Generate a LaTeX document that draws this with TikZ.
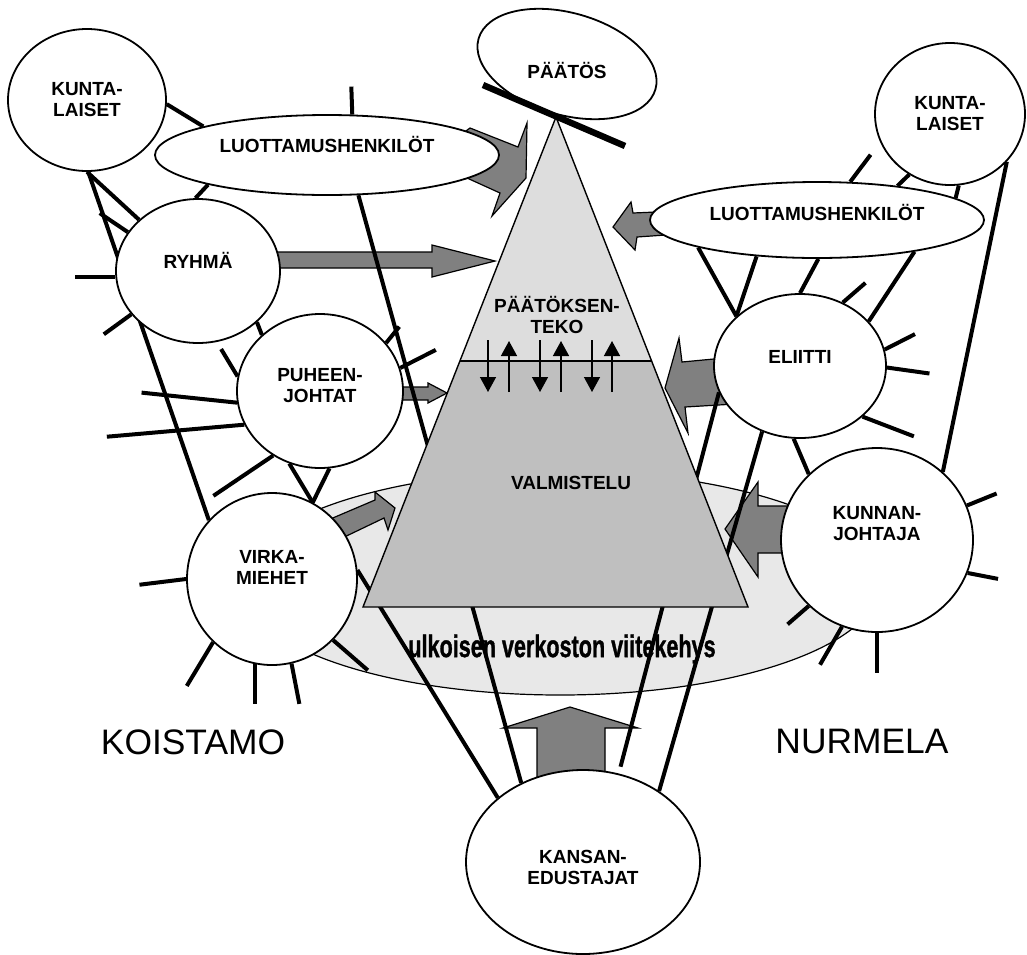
\documentclass[tikz,border=0pt]{standalone}
\usepackage{fontspec}
\setmainfont{Liberation Sans}
\newfontfamily\heavyfont{Liberation Sans}[FakeBold=1.3]
\usepackage{graphicx}
\usetikzlibrary{shapes.geometric,arrows.meta}

\definecolor{diskgray}{gray}{0.91}
\definecolor{topgray}{gray}{0.865}
\definecolor{lowgray}{gray}{0.75}
\definecolor{arrowgray}{gray}{0.5}

\pgfdeclarelayer{disk}
\pgfdeclarelayer{blocks}
\pgfdeclarelayer{links}
\pgfdeclarelayer{pyramid}
\pgfdeclarelayer{front}
\pgfsetlayers{disk,blocks,links,pyramid,main,front}

\begin{document}
\begin{tikzpicture}[
  x=0.5pt, y=-0.5pt,
  blob/.style={ellipse, draw, fill=white, line width=0.9pt, inner sep=0pt},
  lab/.style={font=\fontsize{9.5}{10.5}\selectfont\bfseries, align=center},
  link/.style={line width=2pt},
  blockarrow/.style={draw, line width=0.6pt, fill=arrowgray, line join=miter},
  updown/.style={line width=0.7pt, -{Triangle[length=7.5pt,width=8pt]}},
  place/.style={font=\fontsize{17.7}{20}\selectfont}
]
\useasboundingbox (0,0) rectangle (1027,954);

% actors
\node[blob, minimum width=79pt, minimum height=71pt, label={[lab]center:KUNTA-\\LAISET}] (kuntaL) at (87,100) {};
\node[blob, minimum width=172pt, minimum height=40pt, label={[lab,yshift=5.5pt]center:LUOTTAMUSHENKILÖT}] (luotL) at (327,155) {};
\node[blob, minimum width=82pt, minimum height=72pt, label={[lab,yshift=5.5pt]center:RYHMÄ}] (ryhma) at (198,271) {};
\node[blob, minimum width=83pt, minimum height=77pt, label={[lab,yshift=2.5pt]center:PUHEEN-\\JOHTAT}] (puheen) at (320,391) {};
\node[blob, minimum width=85pt, minimum height=86pt, label={[lab,yshift=6pt]center:VIRKA-\\MIEHET}] (virka) at (272,579) {};
\node[blob, minimum width=75pt, minimum height=71pt, label={[lab]center:KUNTA-\\LAISET}] (kuntaR) at (950,114) {};
\node[blob, minimum width=167pt, minimum height=38pt, label={[lab,yshift=4pt]center:LUOTTAMUSHENKILÖT}] (luotR) at (817,220) {};
\node[blob, minimum width=86pt, minimum height=72pt, label={[lab,yshift=4.5pt]center:ELIITTI}] (eliitti) at (800,366) {};
\node[blob, minimum width=96pt, minimum height=92pt, label={[lab,yshift=8pt]center:KUNNAN-\\JOHTAJA}] (kunnan) at (877,540) {};
\node[blob, minimum width=117pt, minimum height=92pt, label={[lab,yshift=-2.5pt]center:KANSAN-\\EDUSTAJAT}] (kansan) at (583,862) {};
\node[blob, rotate=-16, minimum width=92pt, minimum height=51pt] (paatosEll) at (567,64) {};
\node[lab] (paatos) at (567,70) {PÄÄTÖS};

\node[place] (koistamo) at (193,742) {KOISTAMO};
\node[place] (nurmela) at (862,741) {NURMELA};

\begin{pgfonlayer}{disk}
\node[ellipse, draw, fill=diskgray, line width=0.6pt, minimum width=320pt, minimum height=112pt] (disk) at (560,583) {};
\node[font=\fontsize{12}{13}\selectfont\heavyfont\bfseries] (viite) at (562,649) {\scalebox{0.9}[1.3]{ulkoisen verkoston viitekehys}};
\end{pgfonlayer}

% pyramid
\coordinate (apex) at (556,117);
\coordinate (bl) at (363,607);
\coordinate (br) at (748,607);
\coordinate (ml) at (460,361);
\coordinate (mr) at (652,361);
\begin{pgfonlayer}{pyramid}
\fill[topgray] (apex) -- (ml) -- (mr) -- cycle;
\fill[lowgray] (ml) -- (bl) -- (br) -- (mr) -- cycle;
\draw[line width=0.7pt] (apex) -- (bl) -- (br) -- cycle;
\draw[line width=0.7pt] (ml) -- (mr);
\node[lab] (teko) at (557,315) {PÄÄTÖKSEN-\\TEKO};
\node[lab] (valm) at (571,483) {VALMISTELU};
\foreach \x in {488,540,592}
  \draw[updown] (\x,340) -- (\x,392);
\foreach \x in {509,561,612}
  \draw[updown] (\x,392) -- (\x,341);
\end{pgfonlayer}

% influence arrows
\begin{pgfonlayer}{blocks}
\draw[blockarrow] (440,150) -- (470,128) -- (518,147) -- (527,123) -- (526,178) -- (492,216) -- (500,193) -- (467,178) -- (440,165) -- cycle;
\draw[blockarrow] (270,252) -- (432,252) -- (432,245) -- (495,261) -- (432,277) -- (432,268) -- (270,268) -- cycle;
\draw[blockarrow] (390,387) -- (428,387) -- (428,383) -- (447,393) -- (428,403) -- (428,400) -- (390,400) -- cycle;
\draw[blockarrow] (321,523) -- (375,500) -- (375,492) -- (395,508) -- (388,530) -- (384,518) -- (336,541) -- cycle;
\draw[blockarrow] (613,227) -- (631,202) -- (633,213) -- (680,211) -- (680,234) -- (637,237) -- (635,250) -- cycle;
\draw[blockarrow] (665,388) -- (679,338) -- (682,362) -- (735,357) -- (735,404) -- (685,407) -- (688,433) -- cycle;
\draw[blockarrow] (725,529) -- (758,482) -- (758,506) -- (800,506) -- (800,553) -- (758,553) -- (758,577) -- cycle;
\draw[blockarrow] (570,707) -- (638,728) -- (605,728) -- (605,795) -- (537,795) -- (537,728) -- (503,728) -- cycle;
\end{pgfonlayer}

% network
\begin{pgfonlayer}{links}
\foreach \a/\b in {kuntaL.-3/luotL.167, kuntaL.270/ryhma.139, kuntaL.271/virka.137,
  luotL.194/ryhma.92, luotL.-52/kansan.128, ryhma.-41/puheen.136,
  puheen.247/virka.62, puheen.277/virka.62, virka.6/kansan.143,
  kuntaR.-40/kunnan.46, kuntaR.236/luotR.23, kuntaR.277/luotR.9,
  luotR.193/eliitti.142, luotR.211/eliitti.142, luotR.272/eliitti.90,
  luotR.-18/eliitti.33, eliitti.240/kansan.43, eliitti.265/kunnan.136}
  \draw[link] (\a) -- (\b);
\draw[link, shorten >=3.5pt] (eliitti.198) -- (kansan.68);
\foreach \n/\a/\d/\l in {luotL/58/92/14pt,
  ryhma/184/180/20pt, ryhma/213/216/17pt, ryhma/151/146/17pt,
  puheen/170/121/16pt, puheen/188/174/48pt, puheen/204/185/69pt,
  puheen/36/51/10.5pt, puheen/16/27/20pt, puheen/234/214/36pt,
  virka/180/187/23.5pt, virka/227/239/25.5pt, virka/259/270/20pt,
  virka/283/281/20.5pt, virka/315/319/23pt,
  luotR/49/53/17pt,
  eliitti/56/41/15pt, eliitti/11/27/17pt, eliitti/-1/-8/21.5pt, eliitti/-39/-21/27.5pt,
  kunnan/21/22/16pt, kunnan/-20/-11/15.5pt, kunnan/270/270/20pt,
  kunnan/248/240/22pt, kunnan/224/221/14pt}
  \draw[link] (\n.\a) -- ++(\d:\l);
\end{pgfonlayer}

\begin{pgfonlayer}{front}
\draw[line width=3.2pt] (483,85) -- (625,146);
\end{pgfonlayer}
\end{tikzpicture}
\end{document}
